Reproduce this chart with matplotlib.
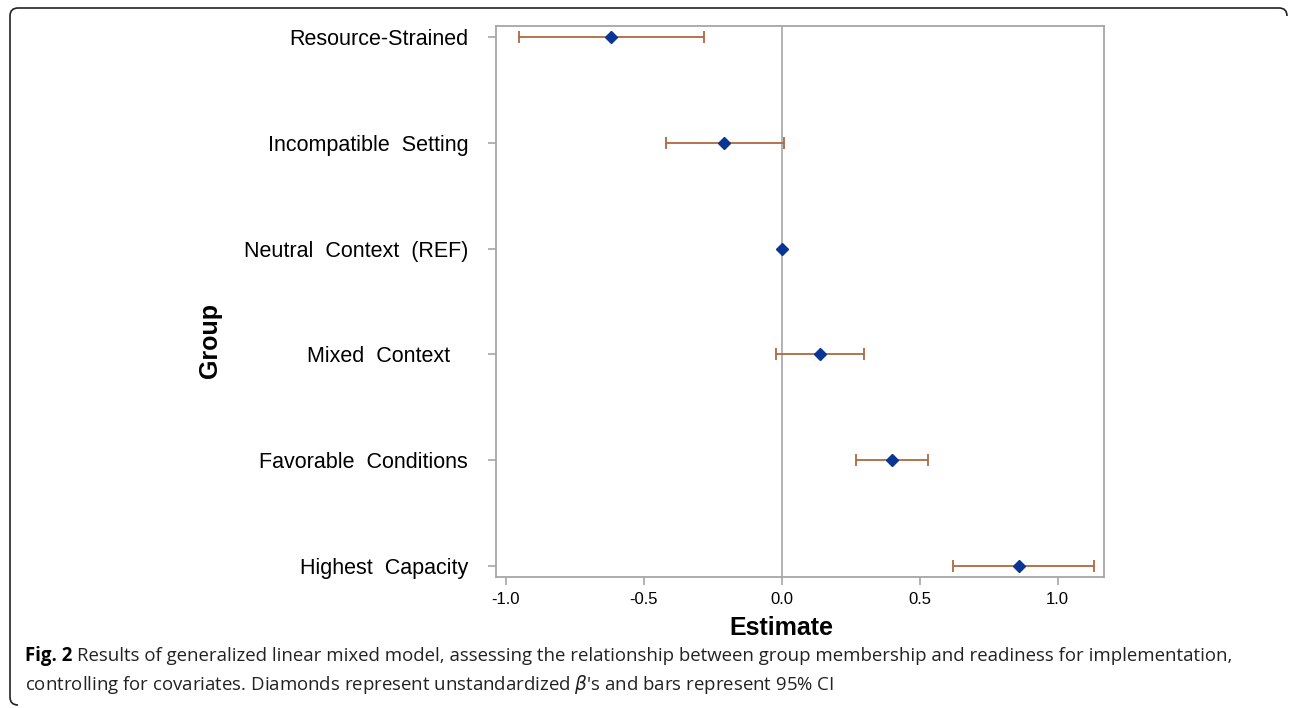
import numpy as np
import matplotlib.pyplot as plt
from matplotlib.path import Path
from matplotlib.patches import PathPatch

# forest plot values
groups = ['Resource-Strained', 'Incompatible  Setting', 'Neutral  Context  (REF)',
          'Mixed  Context   ', 'Favorable  Conditions', 'Highest  Capacity']
estimate = [-0.62, -0.21, 0.0, 0.14, 0.40, 0.86]
ci_low = [-0.95, -0.42, np.nan, -0.02, 0.27, 0.62]
ci_high = [-0.28, 0.01, np.nan, 0.30, 0.53, 1.13]
xticks = [-1.0, -0.5, 0.0, 0.5, 1.0]
xtick_labels = ['-1.0', '-0.5', '0.0', '0.5', '1.0']

W, H = 1290, 708
fig = plt.figure(figsize=(W / 100, H / 100), dpi=100)
ax = fig.add_axes([496 / W, 1 - 577 / H, (1104 - 496) / W, (577 - 26) / H])

grey = '#a6a6a6'
ax.axvline(0, color=grey, lw=1.2, zorder=1)

y = np.arange(len(groups))
est = np.array(estimate)
lo = np.array(ci_low)
hi = np.array(ci_high)
ok = ~np.isnan(lo)
ax.errorbar(est[ok], y[ok], xerr=[est[ok] - lo[ok], hi[ok] - est[ok]], fmt='none',
            ecolor='#b0683f', elinewidth=1.3, capsize=4.6, capthick=1.3, zorder=2)
ax.plot(est, y, 'D', color='#0a3594', markersize=6, zorder=3)

ax.set_xlim(-1.035, 1.168)
ax.set_ylim(5.1, -0.1)
ax.set_xticks(xticks)
ax.set_xticklabels(xtick_labels, fontsize=12, family='Liberation Sans')
ax.set_yticks(y)
ax.set_yticklabels(groups, fontsize=15.5, family='Liberation Sans')
ax.tick_params(axis='x', length=6, width=1.2, color=grey, pad=5)
ax.tick_params(axis='y', length=6, width=1.2, color=grey, pad=14)
for s in ax.spines.values():
    s.set_color(grey)
    s.set_linewidth(1.3)

fig.text(781 / W, 1 - 628 / H, 'Estimate', ha='center', va='center',
         fontsize=18, fontweight='bold', family='Liberation Sans')
fig.text(210 / W, 1 - 340 / H, 'Group', ha='center', va='center', rotation=90,
         fontsize=18, fontweight='bold', family='Liberation Sans')

# caption
cap_font = 'Open Sans'
cap_size = 13.4
t1 = fig.text(25 / W, 1 - 661 / H, 'Fig. 2', fontsize=cap_size, fontweight='bold',
              family=cap_font, va='baseline')
r = fig.canvas.get_renderer()
bb = t1.get_window_extent(r)
fig.text((bb.x1 + 5) / W, 1 - 661 / H,
         'Results of generalized linear mixed model, assessing the relationship between group '
         'membership and readiness for implementation,',
         fontsize=cap_size, family=cap_font, va='baseline', color='#222222')
fig.text(25 / W, 1 - 690 / H,
         r"controlling for covariates. Diamonds represent unstandardized $\beta$'s and bars represent 95% CI",
         fontsize=cap_size, family=cap_font, va='baseline', color='#222222')

# rounded frame around the figure (top and left edges)
pts = [(1287, 16), (1287, 8), (1279, 8), (18, 8), (10, 8), (10, 16),
       (10, 697), (10, 705), (18, 705)]
codes = [Path.MOVETO, Path.CURVE3, Path.CURVE3, Path.LINETO, Path.CURVE3, Path.CURVE3,
         Path.LINETO, Path.CURVE3, Path.CURVE3]
pts = [(px / W, 1 - py / H) for px, py in pts]
fig.add_artist(PathPatch(Path(pts, codes), fill=False, lw=1.2, edgecolor='#222222',
                         transform=fig.transFigure))

fig.savefig('out.png', dpi=100)
